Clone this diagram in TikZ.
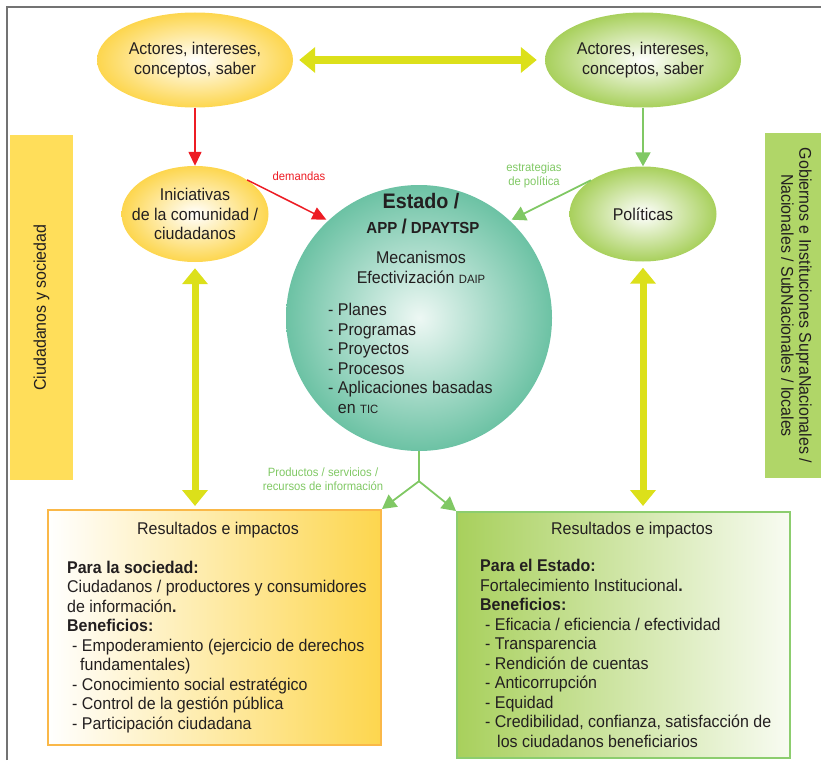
\documentclass[tikz,border=0pt]{standalone}
\usepackage{fontspec}
\setmainfont{Liberation Sans}[FakeStretch=0.94]
\usetikzlibrary{shapes.geometric,arrows.meta,positioning}
\definecolor{socYellow}{RGB}{253,214,78}
\definecolor{barYellow}{RGB}{255,222,90}
\definecolor{govGreen}{RGB}{168,208,92}
\definecolor{barGreen}{RGB}{176,214,104}
\definecolor{stateTeal}{RGB}{108,194,164}
\definecolor{linkYellow}{RGB}{220,224,26}
\definecolor{linkGreen}{RGB}{128,200,100}
\definecolor{linkRed}{RGB}{237,28,36}
\definecolor{boxOrange}{RGB}{250,184,72}
\definecolor{boxGreen}{RGB}{140,205,110}
\definecolor{inkGrey}{RGB}{35,31,32}

\begin{document}
\begin{tikzpicture}[
    x=1pt, y=-1pt,
    every node/.style={text=inkGrey},
    ovalY/.style={ellipse, inner sep=0pt, inner color=white, outer color=socYellow, align=center, font=\fontsize{17}{19.5}\selectfont},
    ovalG/.style={ellipse, inner sep=0pt, inner color=white, outer color=govGreen, align=center, font=\fontsize{17}{19.5}\selectfont},
    sidebar/.style={rectangle, minimum width=345pt, minimum height=63pt, align=center, font=\fontsize{17}{18}\selectfont},
    resbox/.style={rectangle, line width=2pt, minimum width=333pt},
    body/.style={align=left, inner sep=0pt, font=\fontsize{17}{19.5}\selectfont},
    tag/.style={align=center, inner sep=0pt, font=\fontsize{12}{14}\selectfont},
    bigarrow/.style={arrows={Triangle[length=16pt,width=25pt]-Triangle[length=16pt,width=25pt]}, line width=7pt, draw=linkYellow},
    redarrow/.style={-{Triangle[length=14pt,width=13pt]}, line width=1.5pt, draw=linkRed},
    greenarrow/.style={-{Triangle[length=14pt,width=15pt]}, line width=1.8pt, draw=linkGreen},
    frame/.style={line width=1.5pt, draw=black!55}
]
\useasboundingbox (0,0) rectangle (821,760);

% Outer frame (top and left edges)
\draw[frame] (7,760) -- (7,7) -- (821,7);

% Side bars
\node[sidebar, fill=barYellow, rotate=90] (barsoc) at (41.5,307.5) {Ciudadanos y sociedad};
\node[sidebar, fill=barGreen, rotate=-90] (bargov) at (796.5,305.5) {Gobiernos e Instituciones SupraNacionales /\\Nacionales / SubNacionales / locales};

% Actors (top row)
\node[ovalY, minimum width=196pt, minimum height=95pt] (actsoc) at (195,60) {Actores, intereses,\\conceptos, saber};
\node[ovalG, minimum width=196pt, minimum height=95pt] (actgov) at (643,60) {Actores, intereses,\\conceptos, saber};

% Initiatives and policies (second row); negative xsep keeps the wide text inside a narrow oval
\node[ovalY, inner xsep=-12pt, minimum width=147pt, minimum height=96pt] (inic) at (195,214) {Iniciativas\\de la comunidad /\\ciudadanos};
\node[ovalG, minimum width=147pt, minimum height=95pt] (polit) at (643,214) {Políticas};

% State circle with its mechanisms (multi-line texts sit on their last baseline)
\node[circle, minimum size=266pt, inner sep=0pt, inner color=stateTeal!12, outer color=stateTeal] (estado) at (419,318) {};
\node[anchor=base, inner sep=0pt, font=\bfseries\fontsize{21}{24}\selectfont] (esttitle) at (421,208) {Estado /};
\node[anchor=base, inner sep=0pt, font=\bfseries\fontsize{16}{18}\selectfont] (estsub) at (423,233) {APP {\fontsize{20}{20}\selectfont/} DPAYTSP};
\node[body, align=center, anchor=base] (estmech) at (421,283) {Mecanismos\\Efectivización {\fontsize{12}{14}\selectfont DAIP}};
\node[body, anchor=base west] (estlist) at (328,413) {- Planes\\- Programas\\- Proyectos\\- Procesos\\- Aplicaciones basadas\\\phantom{- }en {\fontsize{12}{14}\selectfont TIC}};

% Results boxes (bottom)
\node[resbox, draw=boxOrange, left color=white, right color=socYellow, minimum height=235pt] (ressoc) at (214.5,627.5) {};
\node[resbox, draw=boxGreen, left color=govGreen, right color=govGreen!8, minimum height=246pt] (resest) at (623.5,635) {};

\node[body, anchor=base] (soctitle) at (218,534) {Resultados e impactos};
\node[body, anchor=base west] (socbody) at (67,729) {\textbf{Para la sociedad:}\\Ciudadanos / productores y consumidores\\de información\textbf{.}\\\textbf{Beneficios:}\\\hspace*{5pt}- Empoderamiento (ejercicio de derechos\\\hspace*{13pt}fundamentales)\\\hspace*{5pt}- Conocimiento social estratégico\\\hspace*{5pt}- Control de la gestión pública\\\hspace*{5pt}- Participación ciudadana};

\node[body, anchor=base] (esttitle2) at (632,534) {Resultados e impactos};
\node[body, anchor=base west] (estbody) at (480,747) {\textbf{Para el Estado:}\\Fortalecimiento Institucional\textbf{.}\\\textbf{Beneficios:}\\\hspace*{5pt}- Eficacia / eficiencia / efectividad\\\hspace*{5pt}- Transparencia\\\hspace*{5pt}- Rendición de cuentas\\\hspace*{5pt}- Anticorrupción\\\hspace*{5pt}- Equidad\\\hspace*{5pt}- Credibilidad, confianza, satisfacción de\\\hspace*{17pt}los ciudadanos beneficiarios};

% Two-way links (yellow)
\draw[bigarrow, shorten <=6pt, shorten >=8pt] (actsoc) -- (actgov);
\draw[bigarrow, shorten <=6pt, shorten >=3pt] (inic.south) -- (inic.south |- ressoc.north);
\draw[bigarrow, shorten <=6pt, shorten >=5pt] (polit.south) -- (polit.south |- resest.north);

% Society side (red)
\draw[redarrow] (actsoc) -- (inic);
\draw[redarrow, shorten >=2pt] (inic.north east) -- (estado.133);
\node[tag, text=linkRed] (demtag) at (299,176) {demandas};

% Government side (green)
\draw[greenarrow] (actgov) -- (polit);
\draw[greenarrow, shorten >=2pt] (polit.north west) -- (estado.47);
\node[tag, text=linkGreen] (esttag) at (534,175) {estrategias\\de política};

% Outputs towards the results
\coordinate[below=30pt of estado.south] (split);
\draw[linkGreen, line width=1.8pt] (estado) -- (split);
\draw[greenarrow] (split) -- (ressoc.north east);
\draw[greenarrow] (split) -- (resest.north west);
\node[tag, text=linkGreen] (prodtag) at (323,479) {Productos / servicios /\\recursos de información};

\end{tikzpicture}
\end{document}
